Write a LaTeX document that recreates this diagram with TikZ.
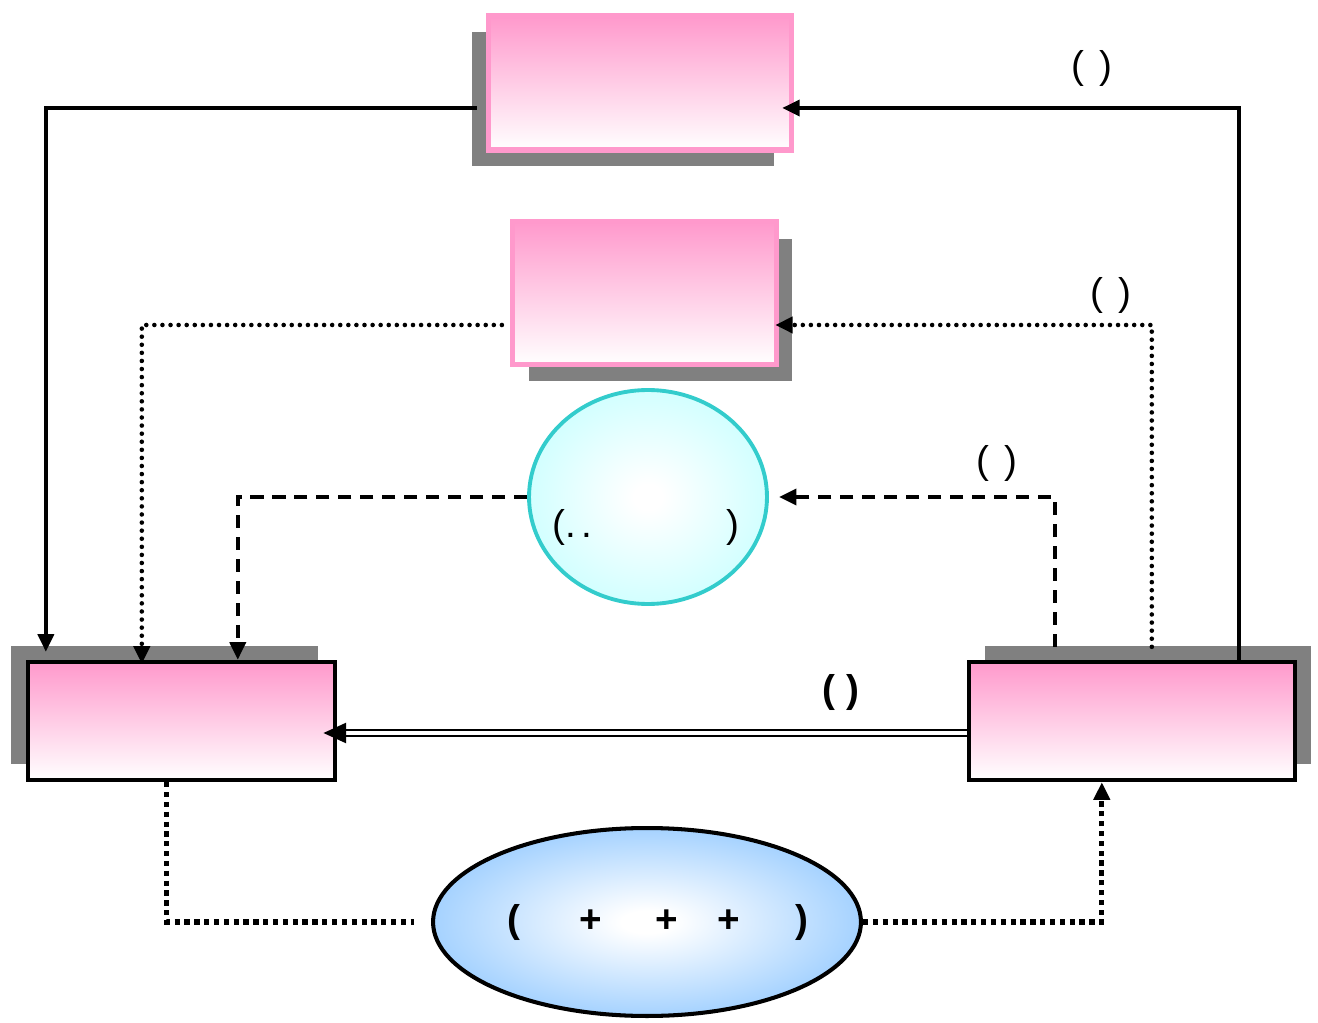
\documentclass[tikz,border=0pt]{standalone}
\usepackage{fontspec}
\setmainfont{Liberation Sans}
\usetikzlibrary{arrows.meta,shapes.geometric,shadows}
\definecolor{boxPink}{HTML}{FF99CC}
\definecolor{shadowGray}{HTML}{808080}
\definecolor{ringEdge}{HTML}{33CCCC}
\definecolor{ringFill}{HTML}{C8FFFF}
\definecolor{sumFill}{HTML}{99CCFF}
\pgfdeclareradialshading{ringglow}{\pgfpoint{0bp}{0bp}}{color(0bp)=(white); color(3bp)=(white); color(30bp)=(ringFill); color(75bp)=(ringFill)}
\pgfdeclareradialshading{sumglow}{\pgfpoint{0bp}{0bp}}{color(0bp)=(white); color(3bp)=(white); color(28bp)=(sumFill); color(75bp)=(sumFill)}
\tikzset{
	pinkbox/.style={draw=boxPink, line width=3pt, top color=boxPink, bottom color=white, inner sep=0},
	blackbox/.style={draw=black, line width=2.5pt, top color=boxPink, bottom color=white, inner sep=0},
	shifted shadow/.style 2 args={drop shadow={shadow xshift=#1, shadow yshift=#2, fill=shadowGray, opacity=1}},
	solidline/.style={line width=2.3pt, -{Triangle[length=10pt,width=9pt]}},
	dotline/.style={solidline, line width=2.6pt, line cap=round, dash pattern=on 0pt off 4.6pt},
	dashline/.style={solidline, dash pattern=on 7.5pt off 5pt},
	bigdotline/.style={solidline, line width=3pt, dash pattern=on 3pt off 2.6pt},
	lab/.style={font=\fontsize{22}{26}\selectfont, inner sep=0}
}

\begin{document}
\begin{tikzpicture}[x=0.02cm, y=-0.02cm]
	\useasboundingbox (0,0) rectangle (1318,1023);
	\node[pinkbox, shifted shadow={-0.34cm}{-0.32cm}, minimum width=6.06cm, minimum height=2.68cm] (topbox) at (640,83) {};
	\node[pinkbox, shifted shadow={0.32cm}{-0.34cm}, minimum width=5.28cm, minimum height=2.86cm] (midbox) at (644.5,293) {};
	\node[ellipse, draw=ringEdge, line width=2.2pt, shading=ringglow, minimum width=4.76cm, minimum height=4.28cm] (ringell) at (648,497) {};
	\node[blackbox, shifted shadow={-0.34cm}{0.32cm}, minimum width=6.14cm, minimum height=2.36cm] (leftbox) at (181.5,721) {};
	\node[blackbox, shifted shadow={0.32cm}{0.32cm}, minimum width=6.52cm, minimum height=2.36cm] (rightbox) at (1132,721) {};
	\node[ellipse, draw, line width=2.3pt, shading=sumglow, minimum width=8.56cm, minimum height=3.76cm] (sumell) at (647,922) {};

	\node[lab] (ringtxt) at (646,527) {(.\hspace{0.1cm}.\hspace{2.7cm})};
	\node[lab, font=\fontsize{22}{26}\selectfont\bfseries] (sumtxt) at (658,923) {(\hspace{1.18cm}+\hspace{1.08cm}+\hspace{0.78cm}+\hspace{1.12cm})};

	\draw[solidline, shorten <=0.18cm, shorten >=0.16cm] ([yshift=-0.5cm]topbox.west) -| ([xshift=0.4cm]leftbox.north west);
	\draw[solidline, shorten >=-0.24cm] ([xshift=-1.16cm]rightbox.north east) |- ([yshift=-0.5cm]topbox.east);
	\node[lab] (lblA) at (1092,69) {(\hspace{0.3cm})};

	\draw[dotline, shorten <=0.16cm, shorten >=-0.08cm] ([yshift=-0.64cm]midbox.west) -| ([xshift=2.32cm]leftbox.north west);
	\draw[dotline, shorten <=0.26cm, shorten >=-0.08cm] ([xshift=3.7cm]rightbox.north west) |- ([yshift=-0.64cm]midbox.east);
	\node[lab] (lblB) at (1111,295) {(\hspace{0.3cm})};

	\draw[dashline] (ringell.west) -| ([xshift=4.24cm]leftbox.north west);
	\draw[dashline, shorten <=0.26cm, shorten >=0.2cm] ([xshift=1.76cm]rightbox.north west) |- (ringell.east);
	\node[lab] (lblC) at (997,463) {(\hspace{0.3cm})};

	\draw[line width=1.4pt, double, double distance=2pt, shorten >=0.1cm] ([yshift=-0.24cm]rightbox.west) -- ([yshift=-0.24cm]leftbox.east);
	\draw[solidline, -{Triangle[length=13pt,width=11pt]}, shorten <=12.5cm, shorten >=-0.28cm] ([yshift=-0.24cm]rightbox.west) -- ([yshift=-0.24cm]leftbox.east);
	\node[lab, font=\fontsize{22}{26}\selectfont\bfseries] (lblD) at (841,693) {(\hspace{0.24cm})};

	\draw[bigdotline, -, shorten >=0.34cm] ([xshift=2.82cm]leftbox.south west) |- (sumell.west);
	\draw[bigdotline] (sumell.east) -| ([xshift=2.7cm]rightbox.south west);
\end{tikzpicture}
\end{document}
